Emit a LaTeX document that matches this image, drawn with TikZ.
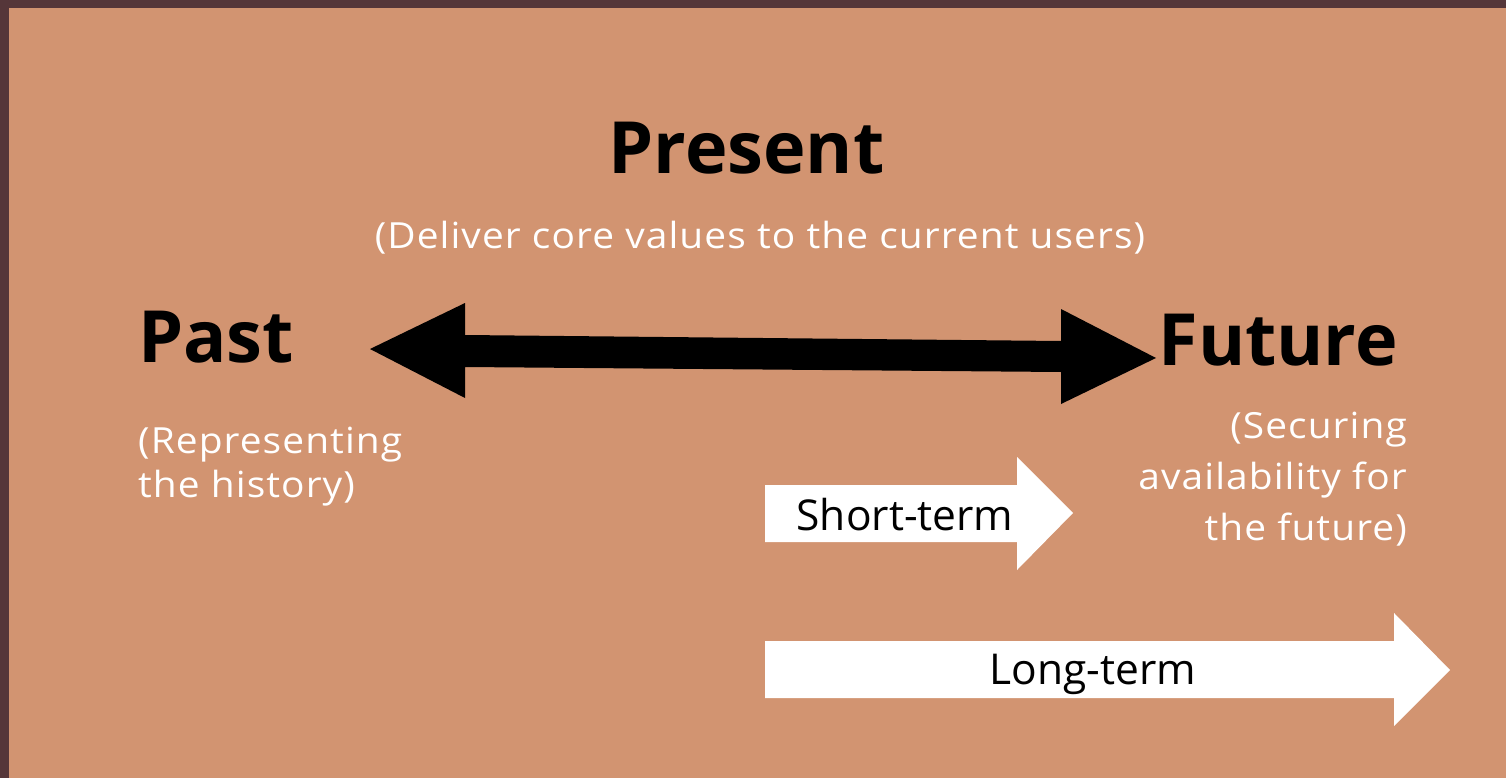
\documentclass[tikz,border=0pt]{standalone}
\usepackage{fontspec}
\setmainfont{Open Sans}
\newfontfamily\subfont[FakeStretch=1.08,LetterSpace=3]{Open Sans}
\definecolor{bgtan}{HTML}{D29471}
\definecolor{frame}{HTML}{553639}
\tikzset{
  big/.style={font=\fontsize{72}{80}\selectfont\bfseries, text=black, inner sep=0pt},
  sub/.style={font=\subfont\fontsize{36}{44}\selectfont, text=white, inner sep=0pt},
  tag/.style={font=\fontsize{42.5}{50}\selectfont, text=black, inner sep=0pt},
}
\begin{document}
\begin{tikzpicture}[x=1pt,y=-1pt]
\useasboundingbox (0,0) rectangle (1506,778);
\fill[frame] (0,0) rectangle (1506,778);
\fill[bgtan] (9,8) rectangle (1506,778);
% big double arrow
\fill[black] (370,349) -- (465,303) -- (465,335) -- (1061,341) -- (1061,309) -- (1156,358)
  -- (1061,404) -- (1061,372) -- (465,367) -- (465,398) -- cycle;
% short-term arrow
\fill[white] (765,485) -- (1017,485) -- (1017,457) -- (1073,513) -- (1017,570) -- (1017,542) -- (765,542) -- cycle;
% long-term arrow
\fill[white] (765,641) -- (1394,641) -- (1394,613) -- (1450,670) -- (1394,726) -- (1394,698) -- (765,698) -- cycle;
\node[big, anchor=base] (present) at (746.5,174) {Present};
\node[sub, anchor=base] (presentsub) at (760,248) {(Deliver core values to the current users)};
\node[big, anchor=base west] (past) at (138,362) {Past};
\node[big, anchor=base east] (future) at (1398,365) {Future};
\node[sub, anchor=base west, align=left, font=\subfont\fontsize{36}{44}\selectfont] (pastsub) at (138,497) {(Representing\\the history)};
\node[sub, anchor=base east, align=right, font=\subfont\fontsize{36}{51}\selectfont] (futuresub) at (1407,540) {(Securing\\availability for\\the future)};
\node[tag, anchor=base] (short) at (905,530) {Short-term};
\node[tag, anchor=base] (long) at (1093,684) {Long-term};
\end{tikzpicture}
\end{document}
